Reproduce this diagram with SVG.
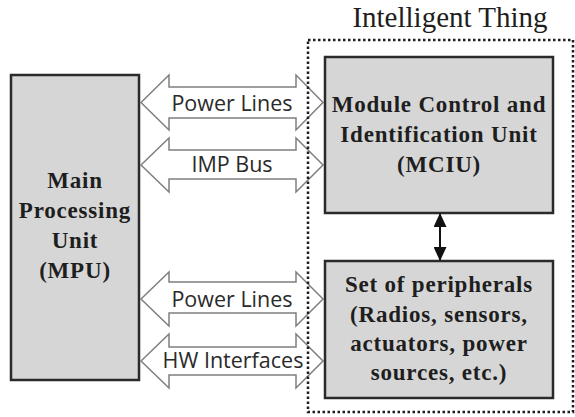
<svg xmlns="http://www.w3.org/2000/svg" width="575" height="417" viewBox="0 0 575 417">
  <defs>
    <style>
      .box { fill: #d6d6d6; stroke: #2a2a2a; stroke-width: 2.5; }
      .btxt { font-family: "Liberation Serif", "Times New Roman", serif; font-weight: bold; font-size: 23px; letter-spacing: 0.8px; fill: #1e1e1e; text-anchor: middle; }
      .blk { fill: #ffffff; stroke: #7f7f7f; stroke-width: 1.5; stroke-linejoin: miter; }
      .ltxt { font-family: "Open Sans", "Liberation Sans", sans-serif; font-size: 21.5px; fill: #2a2a2a; text-anchor: middle; }
      .dotted { fill: none; stroke: #1e1e1e; stroke-width: 2.5; stroke-dasharray: 2.5 2.5; }
      .title { font-family: "Liberation Serif", "Times New Roman", serif; font-size: 29px; fill: #1e1e1e; text-anchor: middle; }
    </style>
    <marker id="ah" viewBox="0 0 14 13" refX="13" refY="6.5" markerWidth="14" markerHeight="13" markerUnits="userSpaceOnUse" orient="auto-start-reverse">
      <path d="M0,0 L14,6.5 L0,13 Z" fill="#111"/>
    </marker>
  </defs>

  <g id="mpu">
    <rect class="box" x="11" y="75" width="128" height="305"/>
    <text class="btxt" x="75" y="188">Main</text>
    <text class="btxt" x="75" y="218">Processing</text>
    <text class="btxt" x="75" y="248">Unit</text>
    <text class="btxt" x="75" y="278">(MPU)</text>
  </g>

  <g id="connectors">
    <path class="blk" d="M141,102.5 L169,75 L169,87 L296,87 L296,75 L323,102.5 L296,130 L296,118 L169,118 L169,130 Z"/>
    <text class="ltxt" x="232" y="111">Power Lines</text>
    <path class="blk" d="M141,165 L169,138 L169,150 L296,150 L296,138 L323,165 L296,192 L296,179 L169,179 L169,192 Z"/>
    <text class="ltxt" x="232" y="172">IMP Bus</text>
    <path class="blk" d="M141,299 L169,272 L169,282 L296,282 L296,272 L323,299 L296,326 L296,313 L169,313 L169,326 Z"/>
    <text class="ltxt" x="232" y="307">Power Lines</text>
    <path class="blk" d="M141,361 L169,334 L169,347 L296,347 L296,334 L323,361 L296,388 L296,375 L169,375 L169,388 Z"/>
    <text class="ltxt" x="233" y="368">HW Interfaces</text>
    <line x1="440" y1="214" x2="440" y2="260" stroke="#111" stroke-width="2" marker-start="url(#ah)" marker-end="url(#ah)"/>
  </g>

  <g id="intelligent-thing">
    <rect class="dotted" x="308" y="40" width="265" height="372"/>
    <text class="title" x="450" y="27">Intelligent Thing</text>
  </g>

  <g id="mciu">
    <rect class="box" x="325" y="57" width="228" height="156"/>
    <text class="btxt" x="439" y="112">Module Control and</text>
    <text class="btxt" x="439" y="142">Identification Unit</text>
    <text class="btxt" x="439" y="172">(MCIU)</text>
  </g>

  <g id="peripherals">
    <rect class="box" x="325" y="261" width="228" height="137"/>
    <text class="btxt" x="439" y="292">Set of peripherals</text>
    <text class="btxt" x="439" y="322">(Radios, sensors,</text>
    <text class="btxt" x="439" y="351">actuators, power</text>
    <text class="btxt" x="439" y="380">sources, etc.)</text>
  </g>
</svg>
